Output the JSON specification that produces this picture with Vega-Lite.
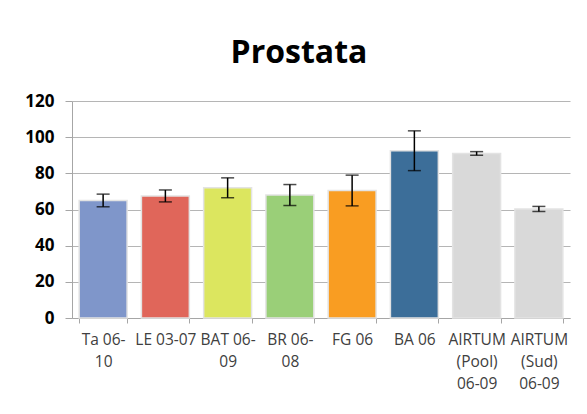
{
  "$schema": "https://vega.github.io/schema/vega-lite/v6.json",
  "autosize": "none",
  "width": 498,
  "height": 217,
  "padding": {"left": 72, "top": 101, "right": 17, "bottom": 96},
  "background": "white",
  "title": {
    "text": "Prostata",
    "font": "Open Sans",
    "fontSize": 32,
    "fontWeight": "bold",
    "color": "black",
    "anchor": "middle",
    "frame": "group",
    "baseline": "alphabetic",
    "offset": -3,
    "dx": -22
  },
  "data": {
    "values": [
      {"registro": "Ta 06-|10", "valore": 65, "err": 3.5},
      {"registro": "LE 03-07", "valore": 67.5, "err": 3.3},
      {"registro": "BAT 06-|09", "valore": 72, "err": 5.5},
      {"registro": "BR 06-|08", "valore": 68, "err": 5.8},
      {"registro": "FG 06", "valore": 70.5, "err": 8.5},
      {"registro": "BA 06", "valore": 92.5, "err": 11},
      {"registro": "AIRTUM|(Pool)|06-09", "valore": 91, "err": 1},
      {"registro": "AIRTUM|(Sud)|06-09", "valore": 60.3, "err": 1.4}
    ]
  },
  "config": {
    "view": {"stroke": null},
    "axis": {"labelFont": "Open Sans", "domainColor": "#A6A6A6", "tickColor": "#A6A6A6", "gridColor": "#B5B5B5"}
  },
  "encoding": {
    "x": {
      "field": "registro",
      "type": "nominal",
      "sort": null,
      "scale": {"paddingInner": 0.23, "paddingOuter": 0.115},
      "axis": {
        "title": null,
        "labelAngle": 0,
        "labelExpr": "split(datum.label, '|')",
        "labelFontSize": 15.5,
        "labelColor": "#404040",
        "labelLineHeight": 22,
        "labelPadding": 9,
        "tickBand": "extent",
        "tickSize": 5,
        "labelLimit": 0,
        "labelOverlap": false,
        "grid": false
      }
    },
    "y": {
      "field": "valore",
      "type": "quantitative",
      "scale": {"domain": [0, 120]},
      "axis": {
        "title": null,
        "values": [0, 20, 40, 60, 80, 100, 120],
        "labelFontSize": 17,
        "labelFontWeight": "bold",
        "labelColor": "black",
        "labelOverlap": false,
        "tickSize": 7,
        "labelPadding": 11,
        "grid": true
      }
    }
  },
  "layer": [
    {
      "mark": {"type": "bar", "stroke": "#E3E3E3", "strokeWidth": 1.5},
      "encoding": {
        "color": {
          "field": "registro",
          "type": "nominal",
          "legend": null,
          "scale": {
            "domain": ["Ta 06-|10", "LE 03-07", "BAT 06-|09", "BR 06-|08", "FG 06", "BA 06", "AIRTUM|(Pool)|06-09", "AIRTUM|(Sud)|06-09"],
            "range": ["#7F96CA", "#E0665A", "#DCE65F", "#9ACF78", "#F99D22", "#3C6E99", "#D9D9D9", "#D9D9D9"]
          }
        }
      }
    },
    {
      "mark": {"type": "errorbar", "ticks": {"size": 13, "color": "black", "strokeWidth": 1.6}, "color": "black", "thickness": 1.5},
      "encoding": {
        "yError": {"field": "err"}
      }
    }
  ]
}
